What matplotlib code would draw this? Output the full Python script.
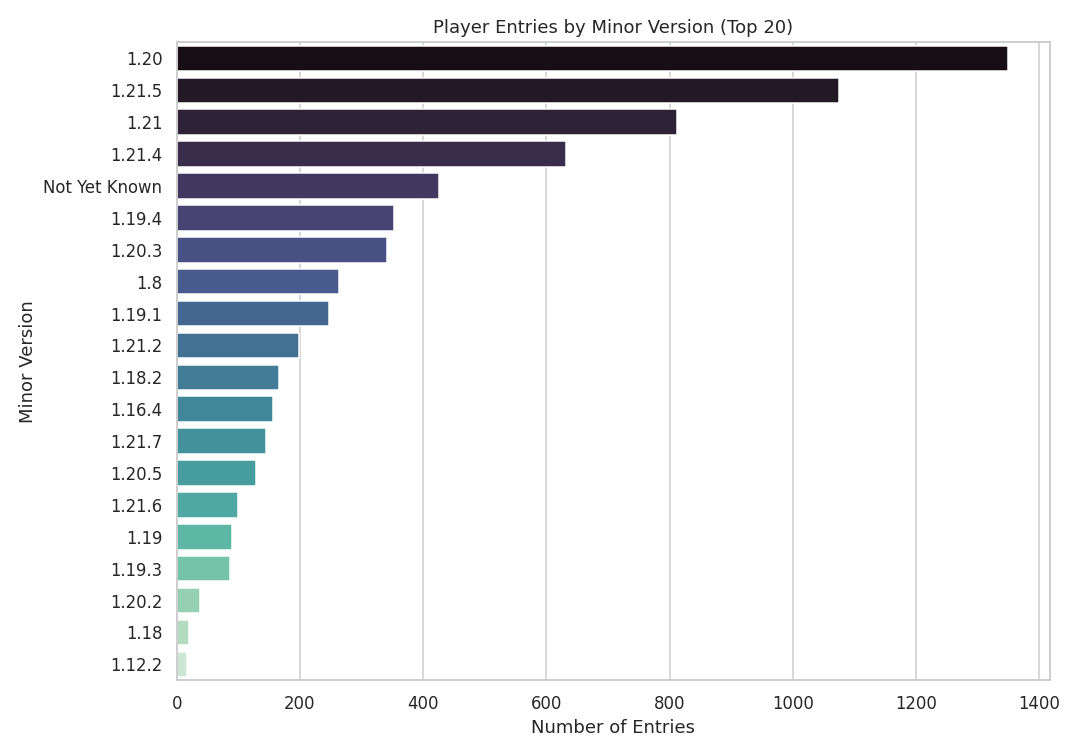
import matplotlib
matplotlib.use("Agg")
import matplotlib.pyplot as plt
import seaborn as sns
import pandas as pd

versions = ["1.20", "1.21.5", "1.21", "1.21.4", "Not Yet Known", "1.19.4", "1.20.3",
            "1.8", "1.19.1", "1.21.2", "1.18.2", "1.16.4", "1.21.7", "1.20.5",
            "1.21.6", "1.19", "1.19.3", "1.20.2", "1.18", "1.12.2"]
entries = [1350, 1075, 812, 632, 425, 353, 341, 264, 247, 198, 166, 156, 145, 129,
           99, 89, 87, 38, 20, 17]

sns.set_theme(style="whitegrid")
df = pd.DataFrame({"Minor Version": versions, "Number of Entries": entries})

fig, ax = plt.subplots(figsize=(10, 7), dpi=108)
sns.barplot(data=df, y="Minor Version", x="Number of Entries", hue="Minor Version",
            palette=sns.color_palette("mako", len(versions)), legend=False, ax=ax)
ax.set_title("Player Entries by Minor Version (Top 20)")
ax.set_xlabel("Number of Entries")
ax.set_ylabel("Minor Version")
fig.tight_layout()
fig.savefig("out.png", dpi=108)
